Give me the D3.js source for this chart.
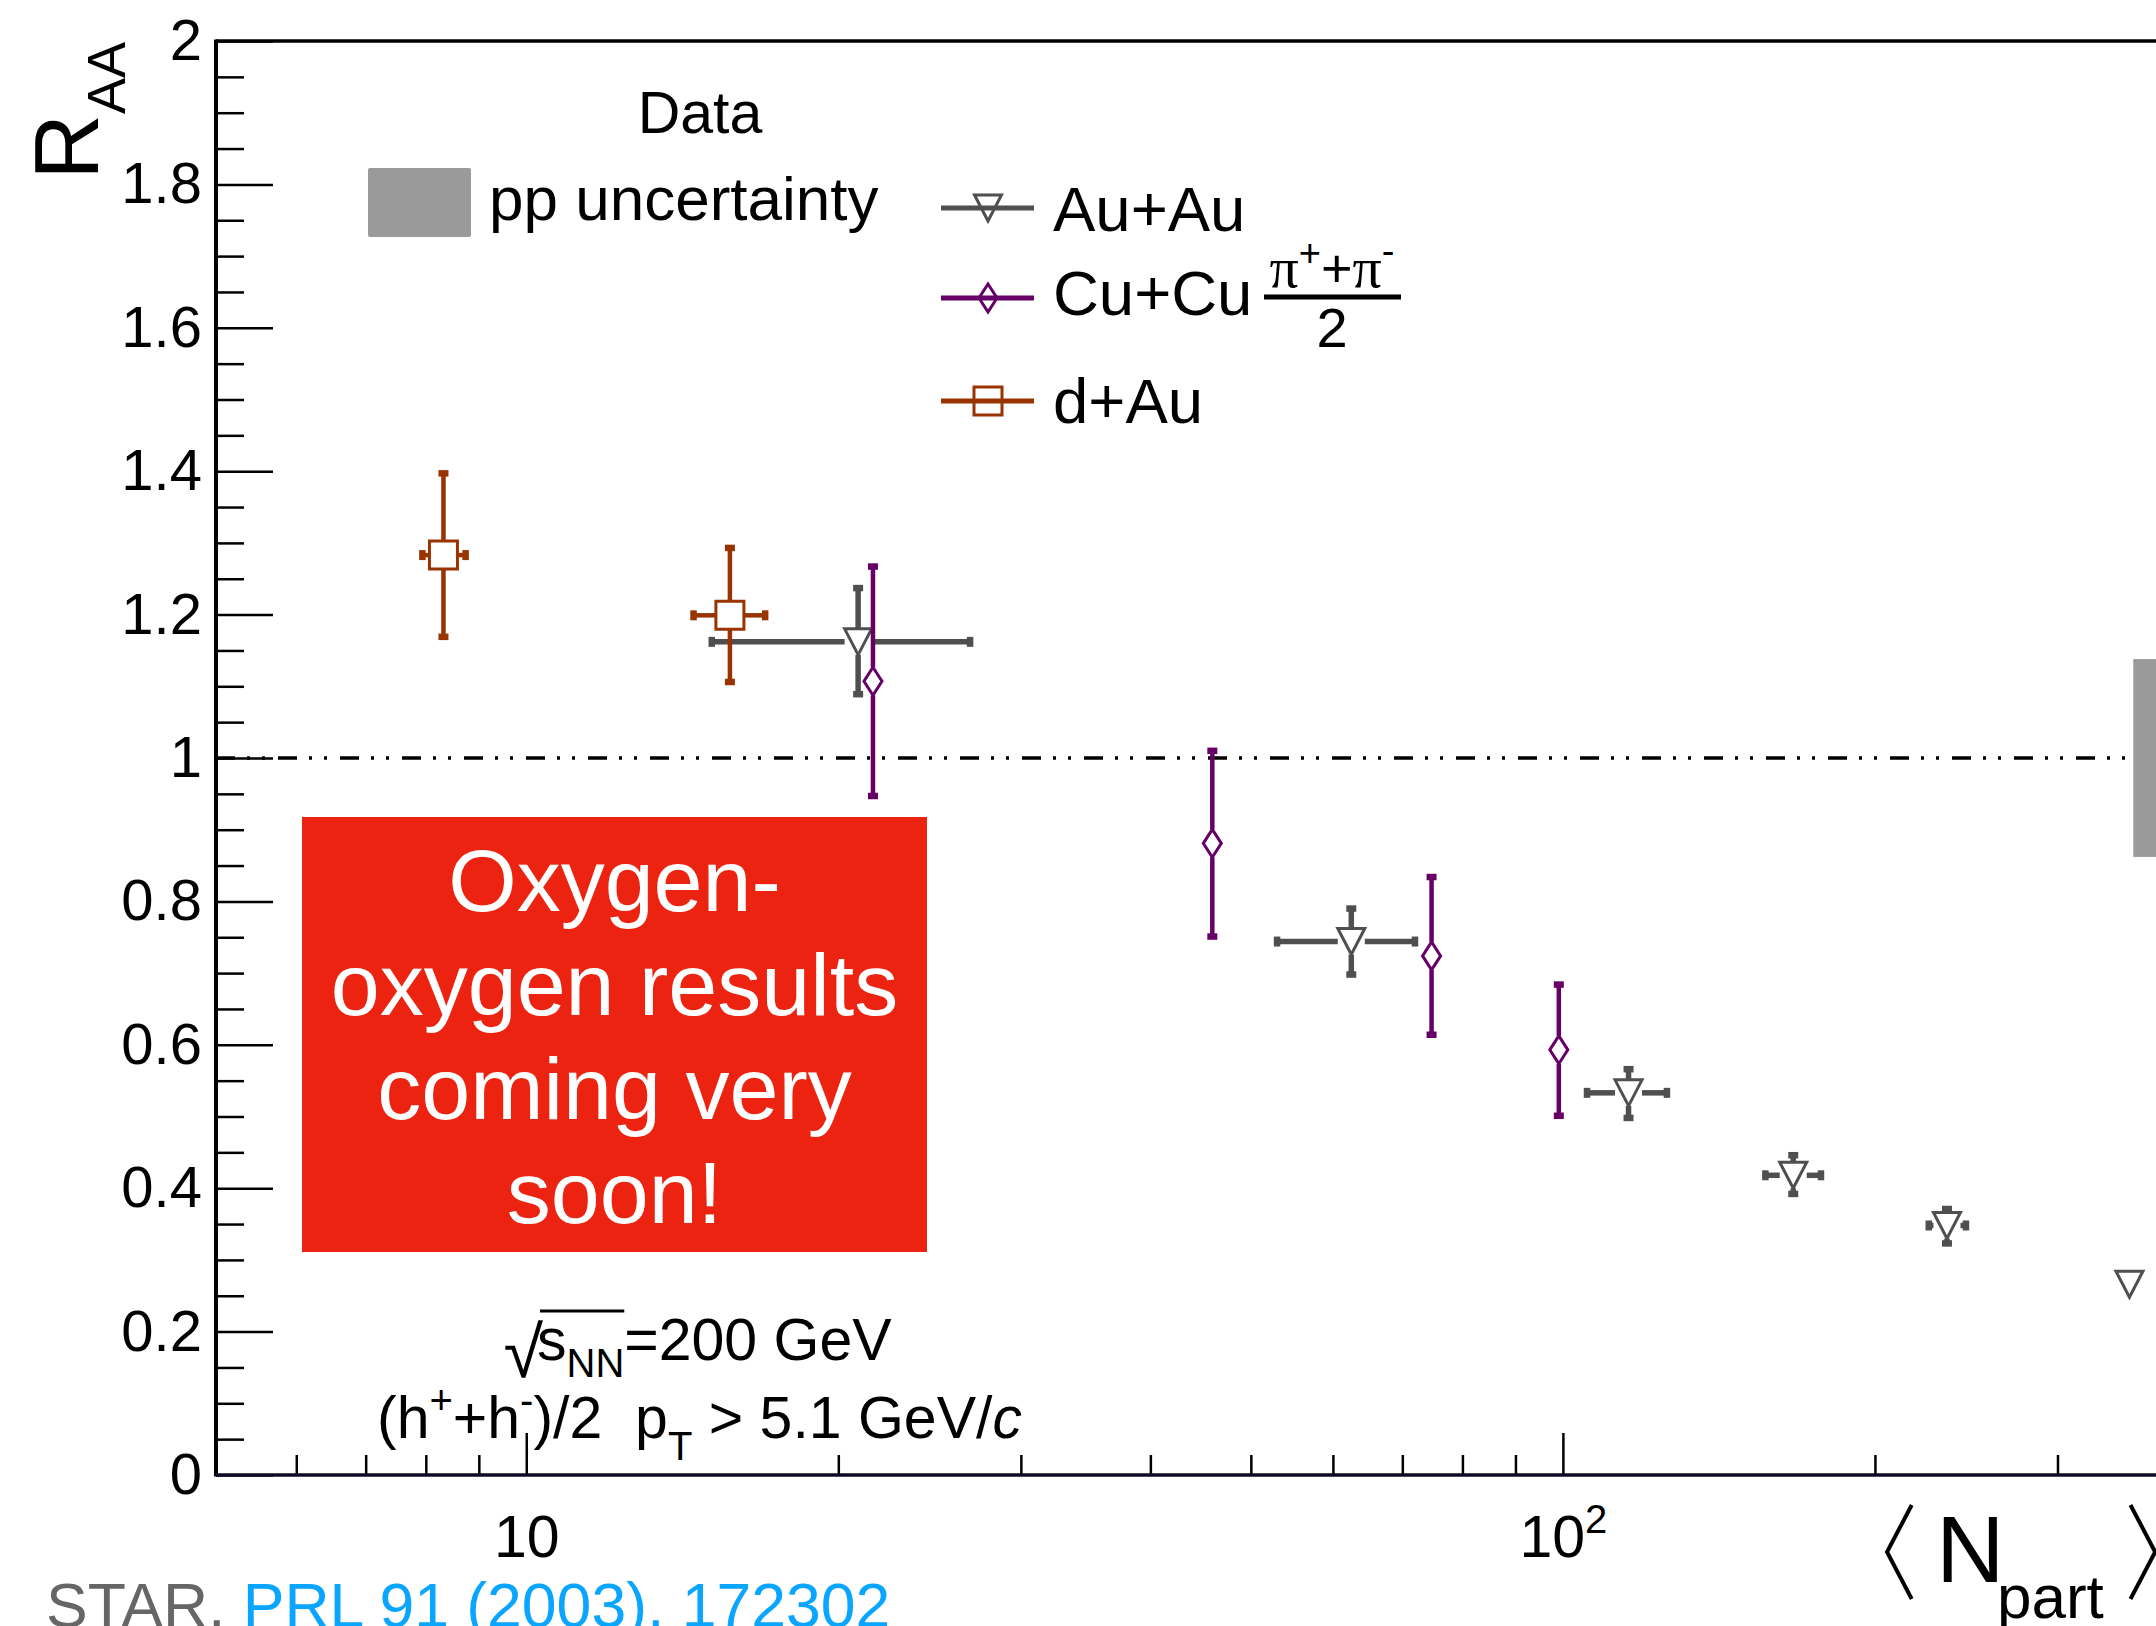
<!DOCTYPE html>
<html>
<head>
<meta charset="utf-8">
<script src="https://cdn.jsdelivr.net/npm/d3@7"></script>
<style>
  html, body { margin: 0; padding: 0; background: #fff; }
  svg { display: block; font-family: "Liberation Sans", Arial, Helvetica, sans-serif; }
  text { white-space: pre; }
</style>
</head>
<body>
<svg id="chart" width="2156" height="1626"></svg>
<script>
// ---- data ----
// Au+Au (h+ + h-)/2, <Npart> with horizontal errors
const auauNpart = [20.9, 62.5, 115.7, 166.8, 234.7, 352];
const auauRaa   = [1.162, 0.744, 0.533, 0.418, 0.348, 0.266];
const auauYlo   = [1.089, 0.698, 0.498, 0.392, 0.323, 0.256];
const auauYhi   = [1.237, 0.790, 0.566, 0.446, 0.371, 0.276];
const auauXlo   = [15.1, 53.0, 105.5, 156.8, 225.4, 345];
const auauXhi   = [26.8, 72.0, 126.0, 177.4, 244.8, 359];

// Cu+Cu (pi+ + pi-)/2
const cucuNpart = [21.6, 45.9, 74.7, 99.1];
const cucuRaa   = [1.107, 0.881, 0.724, 0.593];
const cucuYlo   = [0.947, 0.751, 0.614, 0.501];
const cucuYhi   = [1.267, 1.010, 0.834, 0.684];

// d+Au
const dauNpart = [8.32, 15.72];
const dauRaa   = [1.283, 1.199];
const dauYlo   = [1.169, 1.106];
const dauYhi   = [1.397, 1.293];
const dauXlo   = [7.94, 14.5];
const dauXhi   = [8.74, 17.0];

// pp normalisation uncertainty band around R_AA = 1
const ppUnc = 0.138;
const ppNpartFrom = 355;

// axes
const xDomain = [5.02, 400];
const yDomain = [0, 2];
const xMajor = [10, 100];
const xMinor = [6, 7, 8, 9, 20, 30, 40, 50, 60, 70, 80, 90, 200, 300, 400];
const yMajor = [0, 0.2, 0.4, 0.6, 0.8, 1, 1.2, 1.4, 1.6, 1.8, 2];

const redBoxLines = ['Oxygen-', 'oxygen results', 'coming very', 'soon!'];

// ---- colours ----
const C_AUAU = '#4f4f4f';
const C_CUCU = '#660066';
const C_DAU = '#993300';

const svg = d3.select('#chart');
const plot = {left: 216, right: 2187, top: 41, bottom: 1475};

const x = d3.scaleLog().domain(xDomain).range([plot.left, plot.right]);
const y = d3.scaleLinear().domain(yDomain).range([plot.bottom, plot.top]);

// zip helper
function points(xs, ys, ylo, yhi, xlo, xhi) {
    return xs.map((v, i) => ({
        x: v, y: ys[i], ylo: ylo[i], yhi: yhi[i],
        xlo: xlo ? xlo[i] : null, xhi: xhi ? xhi[i] : null
    }));
}

// Marker shapes, centred at 0,0
function markerPath(type) {
    if (type === 'tri') return 'M-13.5,-13L13.5,-13L0,13Z';
    if (type === 'dia') return 'M0,-14L9,0L0,14L-9,0Z';
    return 'M-14,-14H14V14H-14Z';
}
const markerHalf = {tri: {w: 13.5, h: 13}, dia: {w: 9, h: 14}, sq: {w: 14, h: 14}};

function drawMarker(g, type, cx, cy, color) {
    g.append('path')
        .attr('d', markerPath(type))
        .attr('transform', `translate(${cx},${cy})`)
        .attr('fill', 'none')
        .attr('stroke', color)
        .attr('stroke-width', 3);
}

// ROOT style error bars: start at marker edge, small thick end caps
function drawSeries(data, type, color, barWidth) {
    const g = svg.append('g');
    const half = markerHalf[type];
    data.forEach(d => {
        const cx = x(d.x), cy = y(d.y);
        const segs = [];
        const top = y(d.yhi), bot = y(d.ylo);
        if (cy - top > half.h) segs.push({x1: cx, y1: cy - half.h, x2: cx, y2: top, vert: true});
        if (bot - cy > half.h) segs.push({x1: cx, y1: cy + half.h, x2: cx, y2: bot, vert: true});
        if (d.xlo != null) {
            const l = x(d.xlo), r = x(d.xhi);
            if (cx - l > half.w) segs.push({x1: cx - half.w, y1: cy, x2: l, y2: cy, vert: false});
            if (r - cx > half.w) segs.push({x1: cx + half.w, y1: cy, x2: r, y2: cy, vert: false});
        }
        segs.forEach(s => {
            g.append('line')
                .attr('x1', s.x1).attr('y1', s.y1).attr('x2', s.x2).attr('y2', s.y2)
                .attr('stroke', color).attr('stroke-width', barWidth);
            // end cap
            g.append('line')
                .attr('x1', s.vert ? s.x2 - 5 : s.x2).attr('x2', s.vert ? s.x2 + 5 : s.x2)
                .attr('y1', s.vert ? s.y2 : s.y2 - 5).attr('y2', s.vert ? s.y2 : s.y2 + 5)
                .attr('stroke', color).attr('stroke-width', 6.5);
        });
        drawMarker(g, type, cx, cy, color);
    });
}

// ---- R_AA = 1 reference line ----
svg.append('line')
    .attr('x1', x(xDomain[0])).attr('x2', x(xDomain[1]))
    .attr('y1', y(1)).attr('y2', y(1))
    .attr('stroke', '#000').attr('stroke-width', 3.3)
    .attr('stroke-dasharray', '19,12,3,12,3,13');

// pp uncertainty box
svg.append('rect')
    .attr('x', x(ppNpartFrom)).attr('y', y(1 + ppUnc))
    .attr('width', x(xDomain[1]) - x(ppNpartFrom))
    .attr('height', y(1 - ppUnc) - y(1 + ppUnc))
    .attr('fill', '#9a9a9a');

// ---- axes ----
function styleAxis(g, width) {
    g.select('.domain').remove();
    g.selectAll('.tick line').attr('stroke', '#000').attr('stroke-width', width);
    g.selectAll('text').attr('fill', '#000')
        .style('font-family', '"Liberation Sans", Arial, sans-serif')
        .style('font-size', '58px');
}

const yAxisG = svg.append('g').attr('transform', `translate(${plot.left},0)`)
    .call(d3.axisLeft(y).tickValues(yMajor).tickSize(-57).tickPadding(14)
        .tickFormat(d3.format('~g')));
styleAxis(yAxisG, 2.5);

const yMinor = d3.range(0, 2.0001, 0.05).filter(v => Math.abs(v * 5 - Math.round(v * 5)) > 1e-6);
const yMinorG = svg.append('g').attr('transform', `translate(${plot.left},0)`)
    .call(d3.axisLeft(y).tickValues(yMinor).tickSize(-28).tickFormat(''));
styleAxis(yMinorG, 2.5);

const xAxisG = svg.append('g').attr('transform', `translate(0,${plot.bottom})`)
    .call(d3.axisBottom(x).tickValues(xMajor).tickSize(-42).tickPadding(40)
        .tickFormat(() => '10'));
styleAxis(xAxisG, 2.5);
xAxisG.selectAll('.tick text').style('font-size', '59px')
    .filter(d => d === 100)
    .append('tspan').attr('dy', '-0.6em').style('font-size', '40px').text('2');

const xMinorG = svg.append('g').attr('transform', `translate(0,${plot.bottom})`)
    .call(d3.axisBottom(x).tickValues(xMinor).tickSize(-20).tickFormat(''));
styleAxis(xMinorG, 2.5);

// frame lines (left axis, bottom axis, top)
svg.append('line').attr('x1', plot.left).attr('x2', plot.left)
    .attr('y1', plot.top - 1.5).attr('y2', plot.bottom + 1.5)
    .attr('stroke', '#000').attr('stroke-width', 4);
svg.append('line').attr('x1', plot.left).attr('x2', plot.right)
    .attr('y1', plot.bottom).attr('y2', plot.bottom)
    .attr('stroke', '#0c0c24').attr('stroke-width', 3.5);
svg.append('line').attr('x1', plot.left).attr('x2', plot.right)
    .attr('y1', plot.top).attr('y2', plot.top)
    .attr('stroke', '#000').attr('stroke-width', 3.5);

// ---- data series ----
drawSeries(points(auauNpart, auauRaa, auauYlo, auauYhi, auauXlo, auauXhi), 'tri', C_AUAU, 5.5);
drawSeries(points(cucuNpart, cucuRaa, cucuYlo, cucuYhi), 'dia', C_CUCU, 4.5);
drawSeries(points(dauNpart, dauRaa, dauYlo, dauYhi, dauXlo, dauXhi), 'sq', C_DAU, 4.5);

// ---- axis titles ----
const yTitle = svg.append('text')
    .attr('transform', 'translate(98,42) rotate(-90)')
    .attr('text-anchor', 'end')
    .attr('fill', '#000');
yTitle.append('tspan').style('font-size', '91px').text('R');
yTitle.append('tspan').attr('dy', 27).style('font-size', '54px').text('AA');

const xTitle = svg.append('g');
xTitle.append('text').attr('transform', 'translate(1876,1592) scale(0.8,1)')
    .attr('text-anchor', 'middle')
    .style('font-family', '"Noto Sans CJK JP", "DejaVu Sans", sans-serif')
    .style('font-weight', 300).style('font-size', '104px').text('\u3008');
xTitle.append('text').attr('x', 1936).attr('y', 1582)
    .style('font-size', '95px').text('N');
xTitle.append('text').attr('x', 1997).attr('y', 1618)
    .style('font-size', '62px').text('part');
xTitle.append('text').attr('transform', 'translate(2166,1592) scale(0.8,1)')
    .attr('text-anchor', 'middle')
    .style('font-family', '"Noto Sans CJK JP", "DejaVu Sans", sans-serif')
    .style('font-weight', 300).style('font-size', '104px').text('\u3009');

// ---- legends ----
svg.append('text').attr('x', 700).attr('y', 133).attr('text-anchor', 'middle')
    .style('font-size', '59px').text('Data');
svg.append('rect').attr('x', 368).attr('y', 168).attr('width', 103).attr('height', 69)
    .attr('rx', 2).attr('fill', '#9a9a9a');
svg.append('text').attr('x', 489).attr('y', 220).style('font-size', '62px').text('pp uncertainty');

const legend = [
    {label: 'Au+Au', type: 'tri', color: C_AUAU, y: 208, ty: 231},
    {label: 'Cu+Cu', type: 'dia', color: C_CUCU, y: 298, ty: 315},
    {label: 'd+Au', type: 'sq', color: C_DAU, y: 401, ty: 423}
];
legend.forEach(e => {
    const g = svg.append('g');
    g.append('line').attr('x1', 941).attr('x2', 1034).attr('y1', e.y).attr('y2', e.y)
        .attr('stroke', e.color).attr('stroke-width', 5);
    drawMarker(g, e.type, 988, e.y, e.color);
    g.append('text').attr('x', 1053).attr('y', e.ty).style('font-size', '63.5px').text(e.label);
});

// pion fraction next to Cu+Cu
const frac = svg.append('g');
const num = frac.append('text').attr('x', 1332).attr('y', 287).attr('text-anchor', 'middle');
num.append('tspan').style('font-family', '"Liberation Serif", serif').style('font-size', '58px').text('\u03c0');
num.append('tspan').attr('dy', -21).style('font-size', '38px').text('+');
num.append('tspan').attr('dy', 21).style('font-size', '54px').text('+');
num.append('tspan').style('font-family', '"Liberation Serif", serif').style('font-size', '58px').text('\u03c0');
num.append('tspan').attr('dy', -23).style('font-size', '38px').text('-');
frac.append('line').attr('x1', 1264).attr('x2', 1401).attr('y1', 297).attr('y2', 297)
    .attr('stroke', '#000').attr('stroke-width', 5);
frac.append('text').attr('x', 1332).attr('y', 347).attr('text-anchor', 'middle')
    .style('font-size', '56px').text('2');

// ---- red overlay box ----
svg.append('rect').attr('x', 302).attr('y', 817).attr('width', 625).attr('height', 435)
    .attr('fill', '#ec2310');
svg.append('g').selectAll('text').data(redBoxLines).join('text')
    .attr('x', 614.5)
    .attr('y', (d, i) => 911 + i * 103.9)
    .attr('text-anchor', 'middle')
    .attr('fill', '#fff')
    .style('font-size', '88px')
    .text(d => d);

// ---- collision energy / selection labels ----
const sLab = svg.append('text').attr('x', 537).attr('y', 1360).style('font-size', '59px');
sLab.append('tspan').text('s');
sLab.append('tspan').attr('dy', 17).style('font-size', '40px').text('NN');
const sLen = sLab.node().getComputedTextLength();
svg.append('text').attr('x', 543).attr('y', 1377).attr('text-anchor', 'end')
    .style('font-family', '"DejaVu Sans", sans-serif').style('font-weight', 200)
    .style('font-size', '72px').text('\u221a');
svg.append('line').attr('x1', 540).attr('x2', 537 + sLen).attr('y1', 1311).attr('y2', 1311)
    .attr('stroke', '#000').attr('stroke-width', 3);
svg.append('text').attr('x', 537 + sLen).attr('y', 1360).style('font-size', '59px').text('=200 GeV');

const cut = svg.append('text').attr('x', 377).attr('y', 1438).style('font-size', '59px');
cut.append('tspan').text('(h');
cut.append('tspan').attr('dy', -24).style('font-size', '40px').text('+');
cut.append('tspan').attr('dy', 24).text('+h');
cut.append('tspan').attr('dy', -24).style('font-size', '40px').text('-');
cut.append('tspan').attr('dy', 24).text(')/2  p');
cut.append('tspan').attr('dy', 22).style('font-size', '40px').text('T');
cut.append('tspan').attr('dy', -22).text(' > 5.1 GeV/');
cut.append('tspan').style('font-style', 'italic').text('c');

// ---- citation ----
const cite = svg.append('text').attr('x', 46).attr('y', 1627).style('font-size', '62.5px');
cite.append('tspan').attr('fill', '#666').text('STAR, ');
cite.append('tspan').attr('fill', '#0aa5ff').text('PRL 91 (2003), 172302');
</script>
</body>
</html>
